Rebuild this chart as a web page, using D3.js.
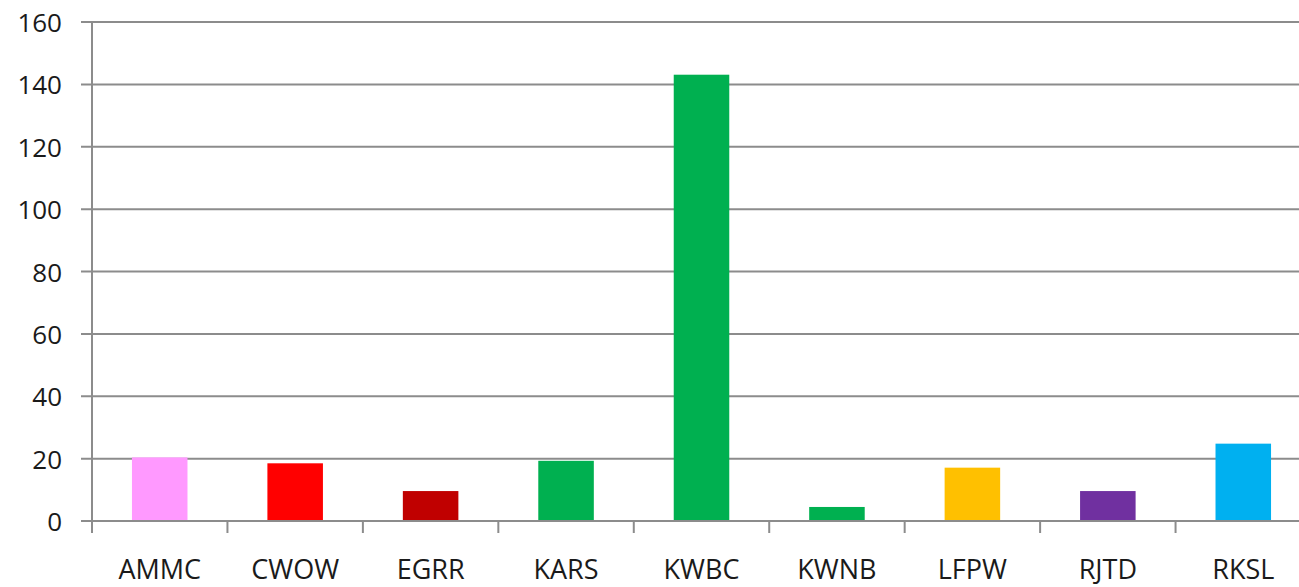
<!DOCTYPE html>
<html>
<head>
<meta charset="utf-8">
<script src="https://cdn.jsdelivr.net/npm/d3@7/dist/d3.min.js"></script>
<style>
  html, body { margin: 0; padding: 0; background: #ffffff; overflow: hidden; }
  svg { display: block; }
  text { font-family: "Open Sans", sans-serif; fill: #1a1a1a; }
</style>
</head>
<body>
<svg id="chart" width="1299" height="587"></svg>
<script>
const categories = ["AMMC", "CWOW", "EGRR", "KARS", "KWBC", "KWNB", "LFPW", "RJTD", "RKSL"];
const values = [20.4, 18.5, 9.6, 19.3, 143.1, 4.5, 17.1, 9.6, 24.8];
const barColors = ["#FF99FF", "#FF0000", "#C00000", "#00B050", "#00B050", "#00B050", "#FFC000", "#7030A0", "#00B0F0"];
const yTicks = [0, 20, 40, 60, 80, 100, 120, 140, 160];

(function () {
const svg = d3.select("#chart");
const mLeft = 92, mRight = 1311, mTop = 22, mBottom = 521;

const x = d3.scaleBand().domain(categories).range([mLeft, mRight]).paddingInner(0.59).paddingOuter(0.295);
const y = d3.scaleLinear().domain([0, 160]).range([mBottom, mTop]);
const step = x.step();

const gridColor = "#8c8c8c";

// gridlines with left tick marks
svg.append("g").selectAll("line").data(yTicks).join("line")
  .attr("x1", mLeft - 11).attr("x2", mRight)
  .attr("y1", d => y(d)).attr("y2", d => y(d))
  .attr("stroke", gridColor).attr("stroke-width", 2);

// y tick labels
svg.append("g").selectAll("text").data(yTicks).join("text")
  .attr("x", 62).attr("y", d => y(d))
  .attr("text-anchor", "end").attr("dominant-baseline", "central")
  .attr("font-size", 26)
  .text(d => d);

// bars
svg.append("g").selectAll("rect").data(categories).join("rect")
  .attr("x", d => x(d)).attr("width", x.bandwidth())
  .attr("y", (d, i) => y(values[i]))
  .attr("height", (d, i) => y(0) - y(values[i]))
  .attr("fill", (d, i) => barColors[i]);

// y axis line
svg.append("line").attr("x1", mLeft).attr("x2", mLeft).attr("y1", mTop).attr("y2", mBottom + 12)
  .attr("stroke", gridColor).attr("stroke-width", 2);

// x axis line
svg.append("line").attr("x1", mLeft).attr("x2", mRight).attr("y1", mBottom).attr("y2", mBottom)
  .attr("stroke", gridColor).attr("stroke-width", 2);

// x tick marks at category boundaries
const bounds = d3.range(categories.length + 1).map(i => mLeft + i * step);
svg.append("g").selectAll("line").data(bounds).join("line")
  .attr("x1", d => d).attr("x2", d => d).attr("y1", mBottom).attr("y2", mBottom + 12)
  .attr("stroke", gridColor).attr("stroke-width", 2);

// x labels
svg.append("g").selectAll("text").data(categories).join("text")
  .attr("x", d => x(d) + x.bandwidth() / 2).attr("y", 579)
  .attr("text-anchor", "middle").attr("font-size", 27)
  .text(d => d);
})();
</script>
</body>
</html>
